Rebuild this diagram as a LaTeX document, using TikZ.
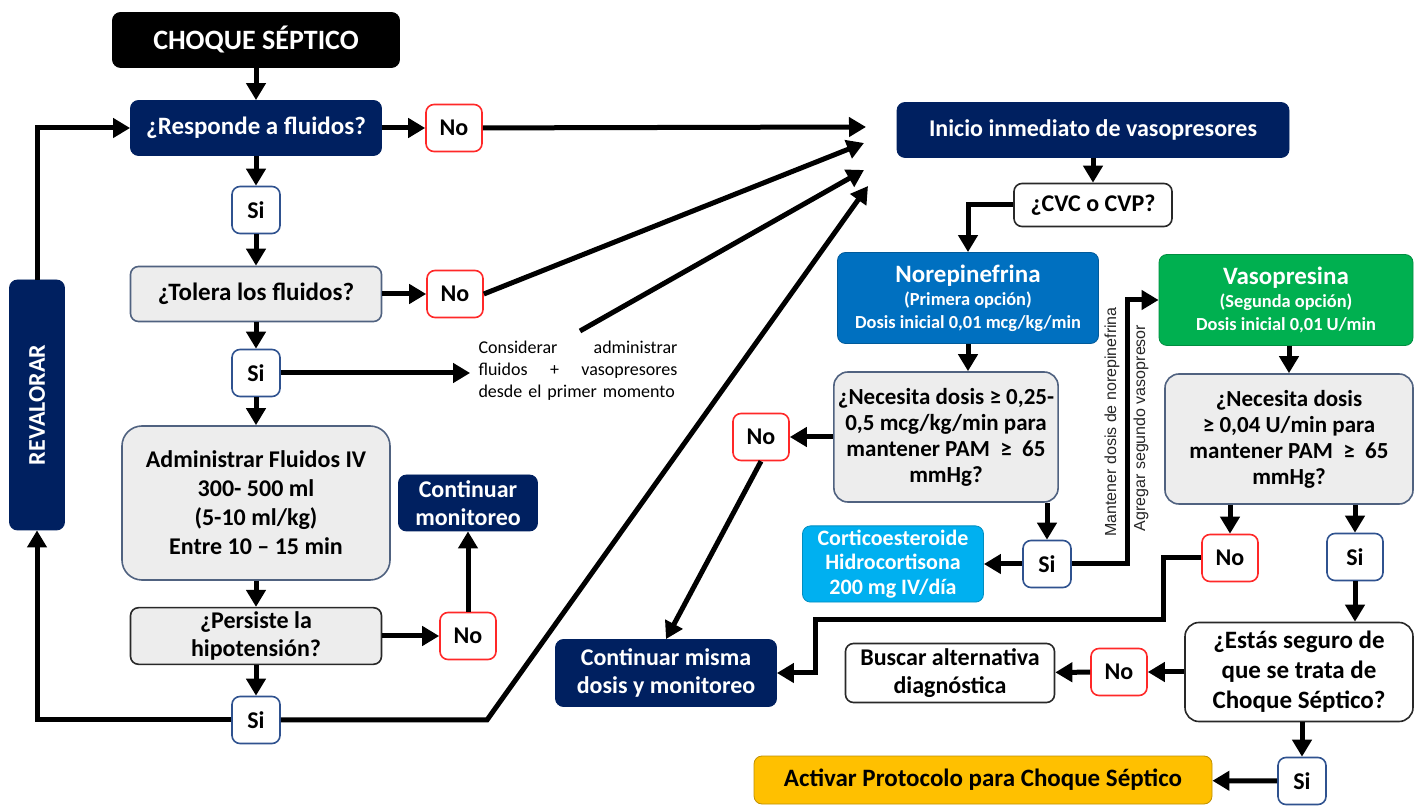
\documentclass[tikz,border=0pt]{standalone}
\usepackage{fontspec}
\setmainfont{Carlito}
\newfontfamily\labelfont{Liberation Sans}
\usetikzlibrary{arrows.meta}

\definecolor{flowNavy}  {RGB}{0,32,96}
\definecolor{flowGray}  {RGB}{237,237,237}
\definecolor{flowSlate} {RGB}{80,98,128}
\definecolor{flowDark}  {RGB}{40,40,40}
\definecolor{flowRed}   {RGB}{255,40,40}
\definecolor{flowBlue}  {RGB}{47,82,143}
\definecolor{flowNorep} {RGB}{0,112,192}
\definecolor{flowVaso}  {RGB}{0,176,80}
\definecolor{flowCyan}  {RGB}{0,176,240}
\definecolor{flowYellow}{RGB}{255,192,0}

\newcommand\drugtitle[1]{{\fontsize{12.5}{12}\selectfont #1}}

\begin{document}
\begin{tikzpicture}[x=0.5pt, y=-0.5pt,
        box/.style={rounded corners=4pt, align=center, inner sep=2pt,
              font=\bfseries\fontsize{12}{14.5}\selectfont},
        dark/.style={box, fill=flowNavy, draw=flowNavy, text=white},
        grey/.style={box, fill=flowGray, draw=flowSlate, line width=0.8pt},
        plain/.style={box, fill=white, draw=flowDark, line width=0.8pt},
        drug/.style={box, text=white, minimum height=45.5pt,
              font=\bfseries\fontsize{9.2}{11.5}\selectfont},
        nobox/.style={box, fill=white, draw=flowRed, line width=0.8pt,
              minimum width=28pt, minimum height=23.5pt},
        sibox/.style={box, fill=white, draw=flowBlue, line width=0.8pt,
              minimum width=24pt, minimum height=23.5pt},
        vlabel/.style={rotate=90, inner sep=0pt, text=black!85,
              font=\labelfont\fontsize{8}{9.6}\selectfont},
        conn/.style={line width=2.5pt, -{Triangle[length=8.5pt,width=9.5pt]}},
        link/.style={line width=2.5pt}]
        \path[use as bounding box, fill=white] (0,0) rectangle (1414,806);

        % left column
        \node[dark, fill=black, draw=black, minimum width=143.5pt,
              minimum height=27.5pt, font=\bfseries\fontsize{14}{16}\selectfont]
              (choque) at (256,40) {CHOQUE SÉPTICO};
        \node[dark, minimum width=125.5pt, minimum height=27.5pt,
              font=\bfseries\fontsize{12.5}{14.5}\selectfont]
              (resp) at (256,128) {¿Responde a fluidos?};
        \node[nobox] (no1) at (454,128) {No};
        \node[sibox] (si1) at (256,210) {Si};
        \node[grey, minimum width=125.5pt, minimum height=27.5pt,
              font=\bfseries\fontsize{12.5}{14.5}\selectfont]
              (tol) at (256,294) {¿Tolera los fluidos?};
        \node[nobox] (no2) at (455,294) {No};
        \node[sibox] (si2) at (256,373) {Si};
        \node[font=\fontsize{9}{11}\selectfont, text width=99.5pt, align=left,
              inner sep=0pt] (consid) at (578,371)
              {Considerar\hfill administrar\\fluidos\hfill +\hfill vasopresores\\\mbox{desde el primer momento}};
        \node[grey, rounded corners=10pt, minimum width=134pt, minimum height=77pt]
              (admin) at (256,503)
              {Administrar Fluidos IV\\300- 500 ml\\(5-10 ml/kg)\\Entre 10 – 15 min};
        \node[grey, draw=flowDark, minimum width=125.5pt, minimum height=27.5pt,
              font=\bfseries\fontsize{12}{14}\selectfont]
              (pers) at (256,636) {¿Persiste la\\hipotensión?};
        \node[nobox] (no3) at (468,636) {No};
        \node[dark, minimum width=69.5pt, minimum height=28pt,
              font=\bfseries\fontsize{12}{14}\selectfont]
              (cmon) at (468,503) {Continuar\\monitoreo};
        \node[sibox] (si3) at (256,720) {Si};
        \node[dark, rotate=90, minimum width=125pt, minimum height=27.5pt]
              (reval) at (37,405) {REVALORAR};

        % right part
        \node[dark, minimum width=196pt, minimum height=27.5pt]
              (inicio) at (1093,130) {Inicio inmediato de vasopresores};
        \node[plain, minimum width=79pt, minimum height=21.5pt]
              (cvc) at (1093,205) {¿CVC o CVP?};
        \node[drug, fill=flowNorep, draw=flowNorep!80!black, minimum width=130.5pt]
              (norepi) at (968,298)
              {\drugtitle{Norepinefrina}\\(Primera opción)\\Dosis inicial 0,01 mcg/kg/min};
        \node[drug, fill=flowVaso, draw=flowVaso!80!black, minimum width=127pt]
              (vaso) at (1286,300)
              {\drugtitle{Vasopresina}\\(Segunda opción)\\Dosis inicial 0,01 U/min};
        \node[grey, rounded corners=7pt, minimum width=103.5pt, minimum height=65pt,
              font=\bfseries\fontsize{11.5}{13}\selectfont] (nec1) at (946,437)
              {¿Necesita dosis ≥ 0,25-\\0,5 mcg/kg/min para\\mantener PAM\ \ ≥\ \ 65\\mmHg?};
        \node[grey, rounded corners=7pt, minimum width=124pt, minimum height=65pt,
              font=\bfseries\fontsize{11.5}{13}\selectfont] (nec2) at (1289,439)
              {¿Necesita dosis\\≥ 0,04 U/min para\\mantener PAM\ \ ≥\ \ 65\\mmHg?};
        \node[nobox] (no4) at (761,437) {No};
        \node[box, fill=flowCyan, draw=flowCyan!80!black, text=white,
              minimum width=90.5pt, minimum height=37pt,
              font=\bfseries\fontsize{11}{12.25}\selectfont] (cort) at (893,564)
              {Corticoesteroide\\Hidrocortisona\\200 mg IV/día};
        \node[sibox] (si4) at (1047,564) {Si};
        \node[nobox] (no5) at (1230,558) {No};
        \node[sibox, minimum width=28pt] (si5) at (1355,557) {Si};
        \node[plain, rounded corners=7pt, minimum width=114pt, minimum height=49.5pt,
              font=\bfseries\fontsize{12.5}{15}\selectfont] (estas) at (1299,672)
              {¿Estás seguro de\\que se trata de\\Choque Séptico?};
        \node[nobox] (no6) at (1119,672) {No};
        \node[plain, minimum width=104.5pt, minimum height=29.5pt,
              font=\bfseries\fontsize{12}{14}\selectfont]
              (buscar) at (950,673) {Buscar alternativa\\diagnóstica};
        \node[dark, minimum width=110.5pt, minimum height=33.5pt,
              font=\bfseries\fontsize{12}{14}\selectfont]
              (misma) at (666,673) {Continuar misma\\dosis y monitoreo};
        \node[sibox] (si6) at (1302,781) {Si};
        \node[box, fill=flowYellow, draw=flowYellow!75!black, minimum width=229pt,
              minimum height=24pt, font=\bfseries\fontsize{12.5}{14}\selectfont]
              (activ) at (983,780) {Activar Protocolo para Choque Séptico};
        \node[vlabel] (mant) at (1112,422) {Mantener dosis de norepinefrina};
        \node[vlabel] (agreg) at (1141,428) {Agregar segundo vasopresor};

        \coordinate (in1) at (866,127);
        \coordinate (in2) at (864,143);
        \coordinate (in3) at (864,170);
        \coordinate (in4) at (868,186);
        \coordinate (cstart) at (580,331);
        \coordinate (bend) at (487,720);
        \coordinate (split) at (1127,564);
        \coordinate (j1) at (1163,620);
        \coordinate (j2) at (815,620);

        \draw[conn] (choque) -- (resp);
        \draw[conn] (resp) -- (no1);
        \draw[conn] (no1) -- (in1);
        \draw[conn] (resp) -- (si1);
        \draw[conn] (si1) -- (tol);
        \draw[conn] (tol) -- (no2);
        \draw[conn] (no2.east) -- (in2);
        \draw[conn] (tol) -- (si2);
        \draw[conn, shorten >=4pt] (si2) -- (si2 -| consid.west);
        \draw[conn] (cstart) -- (in3);
        \draw[conn] (si2) -- (admin);
        \draw[conn] (admin) -- (pers);
        \draw[conn] (pers) -- (no3);
        \draw[conn] (no3) -- (cmon);
        \draw[conn] (pers) -- (si3);
        \draw[conn] (si3.west) -| (reval.west);
        \draw[conn] (reval.east) |- (resp.west);
        \draw[conn] (si3.east) -- (bend) -- (in4);

        \draw[conn] (inicio) -- (cvc);
        \draw[conn] (cvc.west) -| (norepi.north);
        \draw[conn] (norepi.south) -- (norepi.south |- nec1.north);
        \draw[conn] (nec1.west) -- (no4);
        \draw[conn] (no4.south) -- (misma.north);
        \draw[conn] (nec1.south -| si4) -- (si4);
        \draw[conn] (si4) -- (cort);
        \draw[conn] (si4.east) -- (split) |- (vaso.west);
        \draw[conn] (vaso.south -| nec2) -- (nec2);
        \draw[conn] (nec2.south -| no5) -- (no5);
        \draw[conn] (nec2.south -| si5) -- (si5);
        \draw[conn] (no5.west) -| (j1) -- (j2) |- (misma.east);
        \draw[conn] (si5) -- (si5 |- estas.north);
        \draw[conn] (estas) -- (no6);
        \draw[conn] (no6) -- (buscar);
        \draw[conn] (estas.south -| si6) -- (si6);
        \draw[conn] (si6) -- (activ);
\end{tikzpicture}
\end{document}
